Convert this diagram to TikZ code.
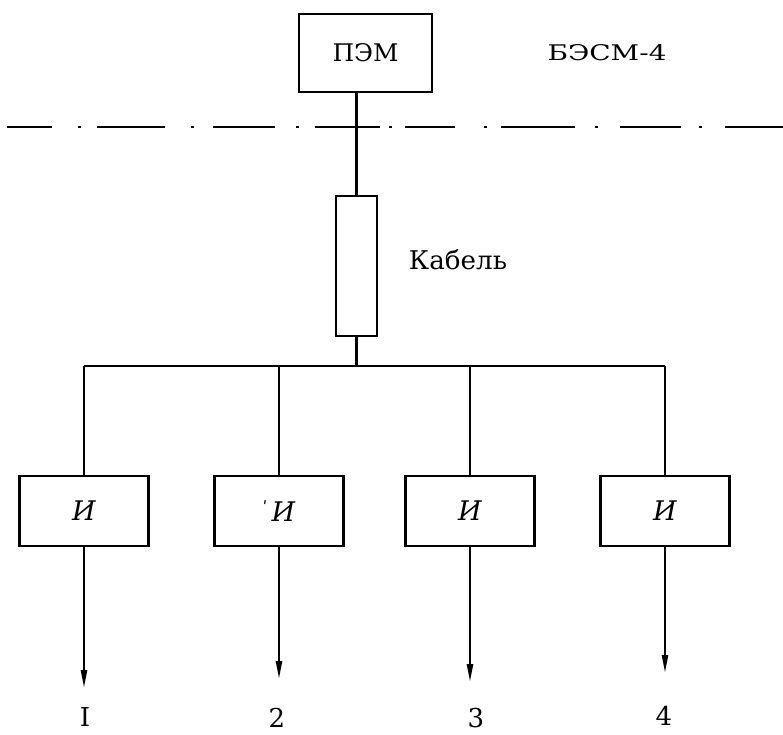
\documentclass[tikz,border=0pt]{standalone}
\usepackage{graphicx}
\usepackage{fontspec}
\setmainfont{DejaVu Serif}
\usetikzlibrary{arrows.meta}
\begin{document}
\begin{tikzpicture}[x=1pt,y=-1pt,
  blk/.style={draw, line width=2.3pt, inner sep=0pt, minimum width=129pt, minimum height=70pt,
              font=\itshape\fontsize{27}{27}\selectfont},
  wire/.style={line width=2.3pt},
  outarrow/.style={wire, -{Triangle[length=18pt,width=6pt]}},
  ddline/.style={line width=2.3pt},
  lab/.style={font=\fontsize{26}{26}\selectfont, inner sep=0pt}]
\useasboundingbox (0,0) rectangle (783,734);
% top block
\node[draw, line width=2.3pt, inner sep=0pt, minimum width=133pt, minimum height=78pt] (pem) at (365.5,53) {\resizebox{66pt}{18pt}{ПЭМ}};
\node[inner sep=0pt] (besm) at (607,53) {\resizebox{119pt}{16pt}{БЭСМ-4}};
% dash-dot boundary
\foreach \a/\b in {7/52,97/165,213/275,315/380,405/455,501/575,620/681,725/783}
  \draw[ddline] (\a,127) -- (\b,127);
\foreach \d in {79,192,297,390,485,596,700}
  \draw[ddline] (\d-1.5,127) -- (\d+1.5,127);
% cable
\node[draw, line width=2.3pt, inner sep=0pt, minimum width=41pt, minimum height=140pt] (cab) at (356.5,266) {};
\node[inner sep=0pt] (cablabel) at (458,260) {\resizebox{98pt}{20pt}{Кабель}};
\draw[wire] (cab.north |- pem.south) -- (cab.north);
\coordinate (bus) at (356.5,366);
\draw[wire] (cab.south) -- (bus);
% blocks
\node[blk] (i1) at (84,511) {И};
\node[blk] (i2) at (279,511) {\raisebox{8pt}{\upshape\fontsize{16}{16}\selectfont ʹ}\,И};
\node[blk] (i3) at (470,511) {И};
\node[blk] (i4) at (665,511) {И};
\draw[wire] (i1.north |- bus) -- (i4.north |- bus);
\foreach \i in {1,...,4}
  \draw[wire] (i\i.north |- bus) -- (i\i.north);
% outputs
\coordinate (o1) at (84,688);
\coordinate (o2) at (279,679);
\coordinate (o3) at (470,682);
\coordinate (o4) at (665,673);
\foreach \i in {1,...,4}
  \draw[outarrow] (i\i.south) -- (o\i);
\node[lab] (l1) at (85,717) {I};
\node[lab] (l2) at (277,718) {2};
\node[lab] (l3) at (476,718) {3};
\node[lab] (l4) at (664,716) {4};
\end{tikzpicture}
\end{document}
